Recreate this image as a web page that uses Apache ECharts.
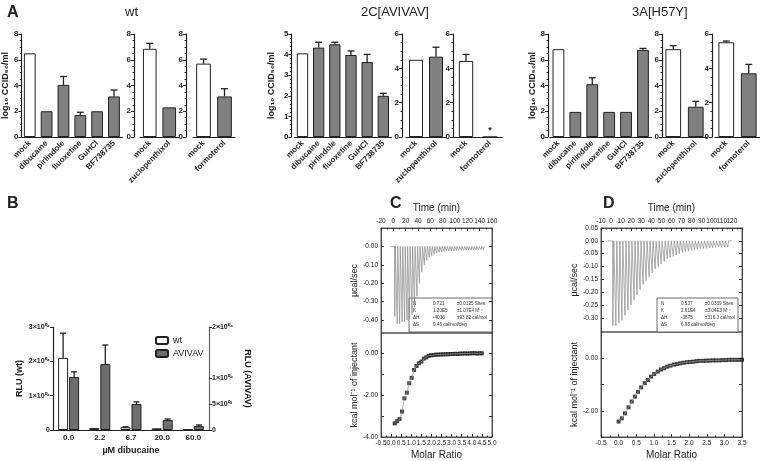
<!DOCTYPE html>
<html><head><meta charset="utf-8">
<script src="https://cdn.jsdelivr.net/npm/echarts@6/dist/echarts.min.js"></script>
<style>html,body{margin:0;padding:0;background:#fff}#c{width:760px;height:461px}</style>
</head><body><div id="c"></div><script>
// ---------- Panel A data ----------
const catsMain = ['mock','dibucaine','pirlindole','fluoxetine','GuHCl','BF738735'];
const catsZuclo = ['mock','zuclopenthixol'];
const catsFormo = ['mock','formoterol'];
const wtMain = [6.5, 2.0, 4.05, 1.7, 2.0, 3.15];
const wtMainErr = [0, 0, 0.65, 0.22, 0, 0.5];
const wtZuclo = [6.85, 2.3];
const wtZucloErr = [0.42, 0];
const wtFormo = [5.7, 3.15];
const wtFormoErr = [0.35, 0.6];
const avMain = [4.06, 4.34, 4.5, 3.98, 3.64, 2.0];
const avMainErr = [0, 0.26, 0.1, 0.2, 0.37, 0.12];
const avZuclo = [4.5, 4.68];
const avZucloErr = [0, 0.55];
const avFormo = [4.43, 0];
const avFormoErr = [0.38, 0];
const hMain = [6.82, 1.95, 4.1, 1.95, 1.95, 6.76];
const hMainErr = [0, 0, 0.5, 0, 0, 0.12];
const hZuclo = [6.82, 2.35];
const hZucloErr = [0.28, 0.42];
const hFormo = [5.52, 3.71];
const hFormoErr = [0.07, 0.52];

// ---------- Panel B data ----------
const bCats = ['0.0','2.2','6.7','20.0','60.0'];
const bWt = [21000, 600, 800, 500, 200];
const bWtErr = [7200, 0, 150, 0, 0];
const bAv = [10300, 12800, 5050, 1940, 780];
const bAvErr = [1000, 3700, 400, 200, 200];
const bLeftTicks = [0, 10000, 20000, 30000];
const bRightTicks = [0, 5000, 10000, 20000];

// ---------- Panel C data ----------
const cInjTime = [2,6,10,14,18,22,26,30,34,38,42,46,50,54,58,62,66,70,74,78,82,86,90,94,98,102,106,110,114,118,122,126,130,134,138,142,146];
const cPeak = [-0.38,-0.42,-0.42,-0.41,-0.41,-0.40,-0.39,-0.37,-0.33,-0.27,-0.20,-0.14,-0.10,-0.075,-0.06,-0.05,-0.042,-0.036,-0.032,-0.03,-0.028,-0.026,-0.025,-0.024,-0.023,-0.022,-0.022,-0.021,-0.021,-0.02,-0.02,-0.02,-0.019,-0.019,-0.018,-0.018,-0.018];
const cBase = [-5, 148];
const cRatio = [0.18,0.30,0.42,0.54,0.66,0.78,0.90,1.02,1.14,1.26,1.38,1.50,1.62,1.74,1.86,1.98,2.10,2.22,2.34,2.46,2.58,2.70,2.82,2.94,3.06,3.18,3.30,3.42,3.54,3.66,3.78,3.90,4.02,4.14,4.26,4.38,4.50];
const cHeat = [-3.35,-3.25,-3.14,-2.79,-2.16,-1.89,-1.44,-1.19,-0.81,-0.62,-0.49,-0.41,-0.27,-0.21,-0.14,-0.11,-0.10,-0.08,-0.08,-0.07,-0.07,-0.06,-0.06,-0.05,-0.05,-0.04,-0.05,-0.03,-0.03,-0.02,-0.03,-0.02,-0.01,-0.01,-0.03,-0.01,-0.02];
const cUpperTicks = [0, -0.1, -0.2, -0.3, -0.4];
const cLowerTicks = [0, -2, -4];
const cFit = ['N','0.721','±0.0125 Sites','K','1.20E5','±1.07E4 M⁻¹','ΔH','-4036','±93.82 cal/mol','ΔS','9.46 cal/mol/deg',''];

// ---------- Panel D data ----------
const dInjTime = [1.5,4.5,7.5,10.5,13.5,16.5,19.5,22.5,25.5,28.5,31.5,34.5,37.5,40.5,43.5,46.5,49.5,52.5,55.5,58.5,61.5,64.5,67.5,70.5,73.5,76.5,79.5,82.5,85.5,88.5,91.5,94.5,97.5,100.5,103.5,106.5,109.5,112.5,115.5];
const dPeak = [-0.33,-0.33,-0.32,-0.31,-0.29,-0.27,-0.25,-0.23,-0.21,-0.19,-0.17,-0.155,-0.14,-0.125,-0.11,-0.10,-0.09,-0.08,-0.07,-0.065,-0.06,-0.055,-0.05,-0.045,-0.042,-0.04,-0.037,-0.035,-0.033,-0.031,-0.03,-0.029,-0.028,-0.027,-0.026,-0.025,-0.025,-0.024,-0.024];
const dBase = [-3, 120];
const dRatio = [0.00,0.09,0.18,0.28,0.37,0.46,0.55,0.64,0.74,0.83,0.92,1.01,1.11,1.20,1.29,1.38,1.47,1.57,1.66,1.75,1.84,1.94,2.03,2.12,2.21,2.30,2.40,2.49,2.58,2.67,2.76,2.86,2.95,3.04,3.13,3.22,3.32,3.41,3.50];
const dHeat = [-2.41,-2.29,-2.10,-1.87,-1.65,-1.46,-1.28,-1.11,-0.95,-0.83,-0.70,-0.60,-0.51,-0.43,-0.38,-0.32,-0.28,-0.24,-0.22,-0.19,-0.17,-0.15,-0.14,-0.13,-0.11,-0.10,-0.10,-0.09,-0.09,-0.08,-0.08,-0.08,-0.07,-0.07,-0.06,-0.06,-0.06,-0.06,-0.06];
const dUpperTicks = [0.05, 0, -0.05, -0.1, -0.15, -0.2, -0.25, -0.3];
const dLowerTicks = [0, -2];
const dFit = ['N','0.537','±0.0339 Sites','K','2.61E4','±3.04E3 M⁻¹','ΔH','-3875','±316.3 cal/mol','ΔS','6.98 cal/mol/deg',''];

// ---------- build ----------
const F = '"Liberation Sans", Arial, sans-serif';
const INK = '#222';
const grids = [], xAxes = [], yAxes = [], series = [], graphics = [];

function errBar(xi, yi, vals, errs, dx, cap) {
  const data = [];
  vals.forEach((v, i) => { if (errs[i] > 0) data.push([i, v, v + errs[i]]); });
  series.push({
    type: 'custom', xAxisIndex: xi, yAxisIndex: yi, z: 5, silent: true,
    encode: { x: 0, y: [1, 2] }, data,
    renderItem: (p, api) => {
      const b = api.coord([api.value(0), api.value(1)]);
      const t = api.coord([api.value(0), api.value(2)]);
      const x = b[0] + dx;
      return { type: 'group', children: [
        { type: 'line', shape: { x1: x, y1: b[1], x2: x, y2: t[1] }, style: { stroke: INK, lineWidth: 1.3 } },
        { type: 'line', shape: { x1: x - cap, y1: t[1], x2: x + cap, y2: t[1] }, style: { stroke: INK, lineWidth: 1.3 } }
      ]};
    }
  });
}

function panelA(c) {
  const gi = grids.length;
  grids.push({ left: c.left, top: 34, width: c.width, height: 103 });
  const xi = xAxes.length;
  xAxes.push({ type: 'category', gridIndex: gi, data: c.cats,
    axisLine: { lineStyle: { color: INK, width: 1.2 } },
    axisTick: { alignWithLabel: true, length: 3, lineStyle: { color: INK } },
    axisLabel: { rotate: 45, fontSize: 8, fontWeight: 'bold', fontFamily: F, color: INK, margin: 5, interval: 0 } });
  const yi = yAxes.length;
  yAxes.push({ type: 'value', gridIndex: gi, min: 0, max: c.max, interval: c.int, offset: c.off,
    splitLine: { show: false },
    axisLine: { show: true, onZero: false, lineStyle: { color: INK, width: 1.2 } },
    axisTick: { show: true, length: 3, lineStyle: { color: INK } },
    minorTick: { show: true, splitNumber: c.minor, length: 1.5, lineStyle: { color: INK } },
    axisLabel: { fontSize: 8, fontWeight: 'bold', fontFamily: F, color: INK, margin: 3 },
    name: c.nameGap ? 'log₁₀ CCID₅₀/ml' : '', nameLocation: 'middle', nameGap: c.nameGap || 0,
    nameTextStyle: { fontSize: 9, fontWeight: 'bold', fontFamily: F, color: INK } });
  series.push({ type: 'bar', xAxisIndex: xi, yAxisIndex: yi, barCategoryGap: c.gap || '30%',
    itemStyle: { borderColor: INK, borderWidth: 1 },
    data: c.vals.map((v, i) => {
      const d = { value: v, itemStyle: { color: i === 0 ? '#ffffff' : '#808080' } };
      if (c.star && c.star[i]) d.label = { show: true, position: 'top', formatter: '*', fontSize: 9, fontWeight: 'bold', color: INK, distance: 1 };
      return d;
    }) });
  errBar(xi, yi, c.vals, c.errs, 0, c.cap || 3.5);
}

// wt
panelA({ left: 21, width: 101.4, off: 0, cats: catsMain, vals: wtMain, errs: wtMainErr, max: 8, int: 2, minor: 4, nameGap: 9 });
panelA({ left: 140, width: 39, off: 6, cats: catsZuclo, vals: wtZuclo, errs: wtZucloErr, max: 8, int: 2, minor: 4 });
panelA({ left: 193, width: 42, off: 7, cats: catsFormo, vals: wtFormo, errs: wtFormoErr, max: 8, int: 2, minor: 4 });
// 2C[AVIVAV]
panelA({ left: 294.4, width: 97, off: 3, cats: catsMain, vals: avMain, errs: avMainErr, max: 5, int: 1, minor: 5, nameGap: 15 });
panelA({ left: 406, width: 40, off: 4, cats: catsZuclo, vals: avZuclo, errs: avZucloErr, max: 6, int: 2, minor: 4 });
panelA({ left: 454, width: 48, off: 1, cats: catsFormo, vals: avFormo, errs: avFormoErr, max: 6, int: 2, minor: 4, gap: '40%', star: [false, true] });
// 3A[H57Y]
panelA({ left: 550, width: 101.4, off: 2, cats: catsMain, vals: hMain, errs: hMainErr, max: 8, int: 2, minor: 4, nameGap: 11 });
panelA({ left: 662, width: 45, off: 0, cats: catsZuclo, vals: hZuclo, errs: hZucloErr, max: 8, int: 2, minor: 4 });
panelA({ left: 715, width: 45, off: 3, cats: catsFormo, vals: hFormo, errs: hFormoErr, max: 6, int: 2, minor: 4 });

// ---------- Panel B ----------
const SUP = { '0': '⁰', '1': '¹', '2': '²', '3': '³', '4': '⁴', '5': '⁵', '6': '⁶', '7': '⁷', '8': '⁸', '9': '⁹' };
function sci(v) {
  if (v === 0) return '0';
  const e = Math.floor(Math.log10(v) + 1e-9);
  const m = Math.round(v / Math.pow(10, e));
  const es = ('0' + e).split('').map(ch => SUP[ch]).join('');
  return m + '×10' + es;
}
const gB = grids.length;
grids.push({ left: 53, top: 327, width: 156, height: 103 });
const xB = xAxes.length;
xAxes.push({ type: 'category', gridIndex: gB, data: bCats,
  axisLine: { lineStyle: { color: INK, width: 1.2 } },
  axisTick: { alignWithLabel: true, length: 3, lineStyle: { color: INK } },
  axisLabel: { fontSize: 8, fontWeight: 'bold', fontFamily: F, color: INK, margin: 4 },
  name: 'µM dibucaine', nameLocation: 'middle', nameGap: 16,
  nameTextStyle: { fontSize: 9, fontWeight: 'bold', fontFamily: F, color: INK } });
const yBL = yAxes.length;
yAxes.push({ type: 'value', gridIndex: gB, min: 0, max: 30000, splitLine: { show: false },
  axisLine: { show: true, onZero: false, lineStyle: { color: INK, width: 1.2 } },
  axisTick: { show: true, length: 3, customValues: bLeftTicks, lineStyle: { color: INK } },
  axisLabel: { fontSize: 7, fontWeight: 'bold', fontFamily: F, color: INK, margin: 3, customValues: bLeftTicks, formatter: sci },
  name: 'RLU (wt)', nameLocation: 'middle', nameGap: 29,
  nameTextStyle: { fontSize: 9, fontWeight: 'bold', fontFamily: F, color: INK } });
const yBR = yAxes.length;
yAxes.push({ type: 'value', gridIndex: gB, position: 'right', min: 0, max: 20000, splitLine: { show: false },
  axisLine: { show: true, onZero: false, lineStyle: { color: '#666', width: 1.2 } },
  axisTick: { show: true, length: 3, customValues: bRightTicks, lineStyle: { color: INK } },
  axisLabel: { fontSize: 7, fontWeight: 'bold', fontFamily: F, color: INK, margin: 3, customValues: bRightTicks, formatter: sci },
  name: 'RLU (AVIVAV)', nameLocation: 'middle', nameGap: 34, nameRotate: -90,
  nameTextStyle: { fontSize: 9, fontWeight: 'bold', fontFamily: F, color: INK } });
series.push({ name: 'wt', type: 'bar', xAxisIndex: xB, yAxisIndex: yBL, barWidth: 10, barGap: '10%', data: bWt,
  itemStyle: { color: '#ffffff', borderColor: INK, borderWidth: 1 } });
series.push({ name: 'AVIVAV', type: 'bar', xAxisIndex: xB, yAxisIndex: yBR, barWidth: 10, barGap: '10%', data: bAv,
  itemStyle: { color: '#6e6e6e', borderColor: INK, borderWidth: 1 } });
errBar(xB, yBL, bWt, bWtErr, -5.5, 3);
errBar(xB, yBR, bAv, bAvErr, 5.5, 3);

// ---------- Panels C and D ----------
function thermo(times, peaks, base) {
  const pts = [[base[0], 0]];
  times.forEach((t, i) => { pts.push([t, 0], [t + 0.3, peaks[i]], [t + 1.2, 0]); });
  pts.push([base[1], 0]);
  return pts;
}
function fitBox(x, y, w, h, rows) {
  const ch = [{ type: 'rect', shape: { x: 0, y: 0, width: w, height: h }, style: { fill: '#fff', stroke: '#444', lineWidth: 0.8 } }];
  for (let r = 0; r < 4; r++) {
    const cols = [4, 24, 48];
    for (let k = 0; k < 3; k++) {
      const s = rows[r * 3 + k];
      if (!s) continue;
      ch.push({ type: 'text', x: cols[k], y: 6 + r * 7, style: { text: s, fontSize: 4.6, fontFamily: F, fill: '#333', verticalAlign: 'middle' } });
    }
  }
  graphics.push({ type: 'group', x, y, z: 100, children: ch });
}
function itc(c) {
  const axisCol = '#333';
  const lbl = { fontSize: 7, fontFamily: F, color: INK, margin: 3 };
  const nameStyle = { fontSize: 9, fontFamily: F, color: INK };
  const line = { onZero: false, lineStyle: { color: axisCol, width: 0.8 } };
  // upper
  const gu = grids.length;
  grids.push({ left: c.left, top: 228, width: c.width, height: c.upH, show: true, borderColor: axisCol, borderWidth: 0.8 });
  const xu = xAxes.length;
  xAxes.push({ type: 'value', gridIndex: gu, position: 'top', min: c.tMin, max: c.tMax, interval: c.tInt,
    splitLine: { show: false }, axisLine: line,
    axisTick: { inside: true, length: 3, lineStyle: { color: axisCol } },
    minorTick: { show: true, splitNumber: 2, length: 1.5, lineStyle: { color: axisCol } },
    axisLabel: Object.assign({}, lbl, { fontSize: 6.5, margin: 3 }),
    name: 'Time (min)', nameLocation: 'middle', nameGap: 15, nameTextStyle: Object.assign({}, nameStyle, { fontSize: 10 }) });
  const yu = yAxes.length;
  yAxes.push({ type: 'value', gridIndex: gu, min: c.uMin, max: c.uMax, splitLine: { show: false },
    axisLine: line,
    axisTick: { inside: true, length: 3, customValues: c.uTicks, lineStyle: { color: axisCol } },
    axisLabel: Object.assign({}, lbl, { customValues: c.uTicks, formatter: v => v.toFixed(2), fontSize: 6.5 }),
    name: 'µcal/sec', nameLocation: 'middle', nameGap: c.nameGap, nameTextStyle: nameStyle });
  // right-side tick marks (no labels)
  yAxes.push({ type: 'value', gridIndex: gu, position: 'right', min: c.uMin, max: c.uMax, splitLine: { show: false },
    axisLine: line, axisLabel: { show: false },
    axisTick: { inside: true, length: 3, customValues: c.uTicks, lineStyle: { color: axisCol } } });
  series.push({ type: 'line', xAxisIndex: xu, yAxisIndex: yu, data: thermo(c.times, c.peaks, c.base),
    showSymbol: false, symbol: 'none', lineStyle: { color: '#8a8a8a', width: 0.7 }, silent: true, animation: false });
  // lower
  const gl = grids.length;
  grids.push({ left: c.left, top: 228 + c.upH, width: c.width, height: 437 - 228 - c.upH, show: true, borderColor: axisCol, borderWidth: 0.8 });
  const xl = xAxes.length;
  xAxes.push({ type: 'value', gridIndex: gl, min: -0.5, max: c.rMax, interval: 0.5,
    splitLine: { show: false }, axisLine: line,
    axisTick: { inside: true, length: 3, lineStyle: { color: axisCol } },
    minorTick: { show: true, splitNumber: 2, length: 1.5, lineStyle: { color: axisCol } },
    axisLabel: Object.assign({}, lbl, { formatter: v => v.toFixed(1), fontSize: 6.5 }),
    name: 'Molar Ratio', nameLocation: 'middle', nameGap: 13, nameTextStyle: Object.assign({}, nameStyle, { fontSize: 10 }) });
  const yl = yAxes.length;
  yAxes.push({ type: 'value', gridIndex: gl, min: c.lMin, max: c.lMax, splitLine: { show: false },
    axisLine: line,
    axisTick: { inside: true, length: 3, customValues: c.lTickAll, lineStyle: { color: axisCol } },
    axisLabel: Object.assign({}, lbl, { customValues: c.lTicks, formatter: v => v.toFixed(2), fontSize: 6.5 }),
    name: 'kcal mol⁻¹ of injectant', nameLocation: 'middle', nameGap: c.nameGap, nameTextStyle: nameStyle });
  yAxes.push({ type: 'value', gridIndex: gl, position: 'right', min: c.lMin, max: c.lMax, splitLine: { show: false },
    axisLine: line, axisLabel: { show: false },
    axisTick: { inside: true, length: 3, customValues: c.lTickAll, lineStyle: { color: axisCol } } });
  series.push({ type: 'line', xAxisIndex: xl, yAxisIndex: yl, data: c.ratio.map((r, i) => [r, c.heat[i]]),
    smooth: 0.3, showSymbol: false, symbol: 'none', lineStyle: { color: '#9a9a9a', width: 0.8 }, silent: true });
  series.push({ type: 'scatter', xAxisIndex: xl, yAxisIndex: yl, data: c.ratio.map((r, i) => [r, c.heat[i]]),
    symbol: 'rect', symbolSize: 4, itemStyle: { color: '#111' }, silent: true });
  fitBox(c.box[0], c.box[1], c.box[2], c.box[3], c.fit);
}
itc({ left: 381, width: 111, upH: 105, tMin: -20, tMax: 160, tInt: 20, uMin: -0.47, uMax: 0.1, uTicks: cUpperTicks,
  times: cInjTime, peaks: cPeak, base: cBase, rMax: 5.0, lMin: -4, lMax: 0.95, lTicks: cLowerTicks, lTickAll: [0, -1, -2, -3, -4],
  ratio: cRatio, heat: cHeat, nameGap: 22, box: [409, 298, 83, 34], fit: cFit });
itc({ left: 601, width: 141, upH: 104, tMin: -10, tMax: 130, tInt: 10, uMin: -0.355, uMax: 0.05, uTicks: dUpperTicks,
  times: dInjTime, peaks: dPeak, base: dBase, rMax: 3.5, lMin: -3, lMax: 1, lTicks: dLowerTicks, lTickAll: [0, -1, -2, -3],
  ratio: dRatio, heat: dHeat, nameGap: 20, box: [657, 298, 81, 34], fit: dFit });

const titleStyle = { fontSize: 13, fontWeight: 'normal', fontFamily: F, color: INK };
const letterStyle = { fontSize: 16, fontWeight: 'bold', fontFamily: F, color: INK };
const chart = echarts.init(document.getElementById('c'), null, { renderer: 'canvas' });
chart.setOption({
  animation: false,
  backgroundColor: '#fff',
  title: [
    { text: 'A', left: 2, top: 0, textStyle: letterStyle },
    { text: 'B', left: 2, top: 191, textStyle: letterStyle },
    { text: 'C', left: 385, top: 191, textStyle: letterStyle },
    { text: 'D', left: 598, top: 191, textStyle: letterStyle },
    { text: 'wt', left: 120, top: 1, textStyle: titleStyle },
    { text: '2C[AVIVAV]', left: 356, top: 1, textStyle: titleStyle },
    { text: '3A[H57Y]', left: 627, top: 1, textStyle: titleStyle }
  ],
  legend: { data: ['wt', 'AVIVAV'], orient: 'vertical', left: 150, top: 331, itemWidth: 12, itemHeight: 7, itemGap: 4,
    textStyle: { fontSize: 9, fontFamily: F, color: INK }, selectedMode: false },
  grid: grids, xAxis: xAxes, yAxis: yAxes, series: series, graphic: graphics
});
</script></body></html>
